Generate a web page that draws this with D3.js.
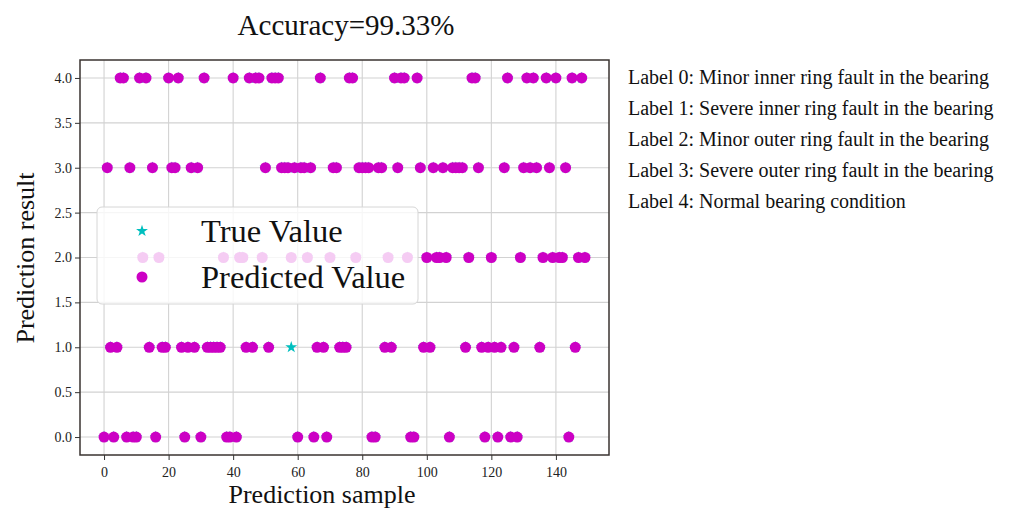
<!DOCTYPE html>
<html>
<head>
<meta charset="utf-8">
<script src="https://cdn.jsdelivr.net/npm/d3@7"></script>
<style>
  body { margin: 0; background: #fff; }
  svg { display: block; }
</style>
</head>
<body>
<svg id="chart" width="1012" height="509"></svg>
<script>
// Sample indices grouped by predicted label (150 test samples, 0..149)
const predictedLabel0 = [0, 3, 7, 9, 10, 16, 25, 30, 38, 39, 41, 60, 65, 69, 83, 84, 95, 96, 107, 118, 122, 126, 128, 144];
const predictedLabel1 = [2, 4, 14, 18, 19, 24, 26, 28, 32, 33, 34, 35, 36, 44, 46, 51, 66, 68, 73, 74, 75, 87, 89, 99, 101, 112, 117, 119, 121, 123, 127, 135, 146];
const predictedLabel2 = [12, 17, 37, 42, 43, 49, 58, 63, 70, 78, 88, 94, 100, 103, 104, 106, 113, 120, 129, 136, 139, 141, 142, 147, 149];
const predictedLabel3 = [1, 8, 15, 21, 22, 27, 29, 50, 55, 56, 57, 59, 61, 62, 64, 71, 72, 79, 80, 81, 82, 85, 86, 91, 98, 102, 105, 108, 109, 110, 111, 116, 124, 130, 132, 134, 138, 143];
const predictedLabel4 = [5, 6, 11, 13, 20, 23, 31, 40, 45, 47, 48, 52, 53, 54, 67, 76, 77, 90, 92, 93, 97, 114, 115, 125, 131, 133, 137, 140, 145, 148];

// Samples whose true label differs from the prediction
const misclassified = [{ sample: 58, trueLabel: 1 }];

const xTicks = [0, 20, 40, 60, 80, 100, 120, 140];
const yTicks = [0.0, 0.5, 1.0, 1.5, 2.0, 2.5, 3.0, 3.5, 4.0];
const legendLabels = ["True Value", "Predicted Value"];
const labelNotes = [
  "Label 0: Minor inner ring fault in the bearing",
  "Label 1: Severe inner ring fault in the bearing",
  "Label 2: Minor outer ring fault in the bearing",
  "Label 3: Severe outer ring fault in the bearing",
  "Label 4: Normal bearing condition"
];
const titleText = "Accuracy=99.33%";
const xTitle = "Prediction sample";
const yTitle = "Prediction result";

// ---- assemble per-sample records ----
const predictedGroups = [predictedLabel0, predictedLabel1, predictedLabel2, predictedLabel3, predictedLabel4];
const samples = [];
predictedGroups.forEach((idx, label) => idx.forEach(i => samples.push({ i, pred: label, truth: label })));
samples.sort((a, b) => a.i - b.i);
misclassified.forEach(m => { const s = samples.find(d => d.i === m.sample); if (s) s.truth = m.trueLabel; });

// ---- layout ----
const serif = "'Liberation Serif', 'Times New Roman', serif";
const plot = { left: 80, right: 609, top: 60, bottom: 455 };
const svg = d3.select("#chart");

const x = d3.scaleLinear().domain([-7.45, 156.45]).range([plot.left, plot.right]);
const y = d3.scaleLinear().domain([-0.2, 4.2]).range([plot.bottom, plot.top]);

const magenta = "#cc00c4";
const cyan = "#00bfbf";

// grid
const grid = svg.append("g").attr("stroke", "#d2d2d2").attr("stroke-width", 1.1);
grid.selectAll("line.gx").data(xTicks).join("line")
  .attr("x1", d => x(d)).attr("x2", d => x(d))
  .attr("y1", plot.top).attr("y2", plot.bottom);
grid.selectAll("line.gy").data(yTicks).join("line")
  .attr("x1", plot.left).attr("x2", plot.right)
  .attr("y1", d => y(d)).attr("y2", d => y(d));

// axes
const xAxis = svg.append("g")
  .attr("transform", `translate(0,${plot.bottom})`)
  .call(d3.axisBottom(x).tickValues(xTicks).tickFormat(d3.format("d")).tickSize(5).tickSizeOuter(0));
const yAxis = svg.append("g")
  .attr("transform", `translate(${plot.left},0)`)
  .call(d3.axisLeft(y).tickValues(yTicks).tickFormat(d3.format(".1f")).tickSize(5).tickSizeOuter(0));
[xAxis, yAxis].forEach(a => {
  a.select(".domain").remove();
  a.selectAll(".tick line").attr("stroke", "#333").attr("stroke-width", 1);
  a.selectAll(".tick text").attr("fill", "#222").style("font-family", serif).style("font-size", "14px");
});
xAxis.selectAll(".tick text").attr("dy", "1.0em");

// true values (stars), drawn beneath predictions
const star = d3.symbol().type(d3.symbolStar).size(44);
svg.append("g").selectAll("path").data(samples).join("path")
  .attr("d", star)
  .attr("transform", d => `translate(${x(d.i)},${y(d.truth)})`)
  .attr("fill", cyan);

// predicted values (dots)
svg.append("g").selectAll("circle").data(samples).join("circle")
  .attr("cx", d => x(d.i)).attr("cy", d => y(d.pred)).attr("r", 5.5)
  .attr("fill", magenta);

// frame
svg.append("rect")
  .attr("x", plot.left).attr("y", plot.top)
  .attr("width", plot.right - plot.left).attr("height", plot.bottom - plot.top)
  .attr("fill", "none").attr("stroke", "#3a3330").attr("stroke-width", 1.5);

// legend
const lg = svg.append("g");
lg.append("rect")
  .attr("x", 97).attr("y", 207).attr("width", 321).attr("height", 97).attr("rx", 5)
  .attr("fill", "#fff").attr("fill-opacity", 0.8)
  .attr("stroke", "#d6d6d6").attr("stroke-width", 1);
lg.append("path").attr("d", star).attr("transform", "translate(142,231)").attr("fill", cyan);
lg.append("circle").attr("cx", 142).attr("cy", 277).attr("r", 5.5).attr("fill", magenta);
lg.selectAll("text").data(legendLabels).join("text")
  .attr("x", 201).attr("y", (d, i) => 242 + i * 46)
  .attr("fill", "#111").style("font-family", serif).style("font-size", "32.5px")
  .text(d => d);

// titles
svg.append("text").attr("x", 346).attr("y", 35).attr("text-anchor", "middle")
  .attr("fill", "#111").style("font-family", serif).style("font-size", "29px").text(titleText);
svg.append("text").attr("x", 322).attr("y", 503).attr("text-anchor", "middle")
  .attr("fill", "#111").style("font-family", serif).style("font-size", "26px").text(xTitle);
svg.append("text").attr("transform", "translate(34,258) rotate(-90)").attr("text-anchor", "middle")
  .attr("fill", "#111").style("font-family", serif).style("font-size", "26px").text(yTitle);

// label descriptions
svg.append("g").selectAll("text").data(labelNotes).join("text")
  .attr("x", 628).attr("y", (d, i) => 84 + i * 31)
  .attr("fill", "#111").style("font-family", serif).style("font-size", "20px")
  .text(d => d);
</script>
</body>
</html>
